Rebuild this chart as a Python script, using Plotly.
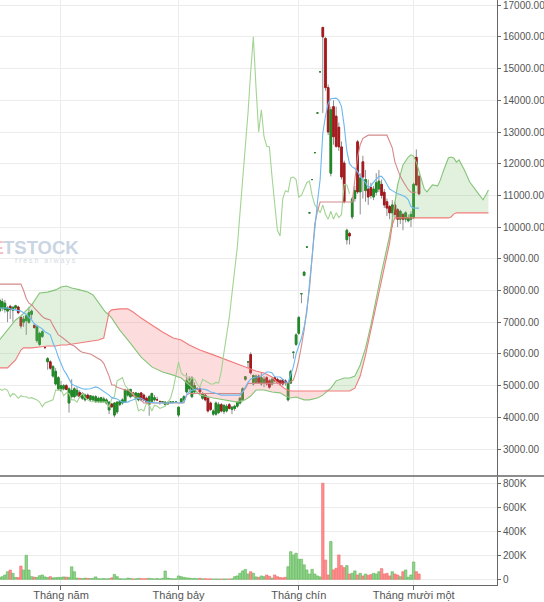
import numpy as np
import pandas as pd
import plotly.graph_objects as go

# trading days from 29 Mar 2018; the last 26 only carry the projected cloud
dates = pd.bdate_range("2018-03-29", periods=184).strftime("%Y-%m-%d").tolist()

opens = [
    7350, 7450, 7400, 7350, 7500, 7380, 7450, 7480, 7150, 7000,
    7050, 7000, 7250, 6900, 6420, 6300, 6550, 6200, 5750, 5750,
    5300, 5050, 4900, 4850, 4900, 5000, 4450, 4650, 4650, 4700,
    4780, 4600, 4550, 4700, 4550, 4550, 4500, 4500, 4480, 4500,
    4450, 4230, 4420, 4070, 4170, 4400, 4450, 4480, 4700, 4650,
    4770, 4600, 4550, 4770, 4700, 4600, 4400, 4500, 4550, 4550,
    4500, 4480, 4400, 4420, 4480, 4480, 4490, 4070, 4480, 4550,
    4800, 4900, 4650, 4800, 4900, 4900, 4600, 4700, 4600, 4450,
    4100, 4100, 4150, 4400, 4180, 4200, 4400, 4250, 4280, 4350,
    4450, 4550, 5200, 5750, 5980, 5050, 5100, 5300, 5050, 5100,
    5250, 5150, 5050, 5250, 5200, 5150, 5180, 5150, 4550, 5080,
    6050, 6300, 6650, 7900, 8480, 9370, 10450, 11500, 12350, 13600,
    14900, 16300, 15950, 14400, 11700, 13800, 13500, 13150, 12530, 12020,
    9600, 9800, 10320, 10900, 12690, 11110, 12060, 11150, 11200, 11250,
    10950, 11100, 11200, 11350, 11100, 10800, 10650, 10450, 10700, 10550,
    10250, 10400, 10250, 10200, 10250, 10300, 12200, 11600,
]
highs = [
    7800, 7750, 7700, 7500, 7550, 7500, 7550, 7520, 7200, 7200,
    7250, 7480, 7400, 6950, 6900, 6700, 6750, 6200, 5900, 5800,
    5650, 5550, 5300, 5150, 5050, 5050, 4950, 5200, 4950, 4950,
    4850, 4800, 4750, 4750, 4700, 4700, 4700, 4650, 4650, 4650,
    4600, 4500, 4450, 4480, 4500, 4550, 4600, 4900, 4900, 4900,
    4800, 4800, 4780, 4800, 4750, 4650, 4700, 4780, 4700, 4650,
    4500, 4500, 4500, 4500, 4480, 4500, 4490, 4330, 4600, 4700,
    5400, 5300, 5300, 5100, 4950, 4950, 4800, 4750, 4650, 4500,
    4250, 4500, 4480, 4450, 4400, 4420, 4450, 4350, 4400, 4500,
    4650, 4950, 5300, 5750, 6050, 5350, 5350, 5350, 5400, 5300,
    5300, 5200, 5250, 5300, 5250, 5200, 5200, 5200, 5100, 5500,
    6080, 6650, 7200, 7900, 8600, 9370, 10450, 11500, 12350, 13600,
    14900, 16300, 16000, 14500, 13800, 14000, 13800, 13300, 12700, 12100,
    9950, 9850, 10950, 11300, 12750, 11700, 12250, 11800, 11500, 11400,
    11300, 11700, 11800, 11500, 11200, 10900, 10700, 10850, 10800, 10600,
    10550, 10450, 10500, 10400, 10500, 11400, 12450, 11650,
]
lows = [
    7200, 7350, 7300, 7000, 7100, 7000, 7400, 7250, 6800, 6850,
    6600, 6950, 7100, 6800, 6350, 6250, 6500, 6150, 5500, 5500,
    5250, 5000, 4850, 4800, 4850, 4850, 4150, 4600, 4600, 4650,
    4600, 4550, 4500, 4550, 4500, 4500, 4450, 4450, 4450, 4450,
    4400, 4100, 4300, 4000, 4100, 4350, 4400, 4450, 4650, 4600,
    4650, 4550, 4500, 4500, 4500, 4450, 4050, 4450, 4500, 4550,
    4400, 4480, 4380, 4400, 4480, 4480, 4490, 4000, 4450, 4500,
    4750, 4800, 4600, 4750, 4900, 4750, 4550, 4500, 4150, 4200,
    4050, 4050, 4100, 4150, 4100, 4150, 4250, 4100, 4200, 4300,
    4400, 4500, 5150, 5550, 5350, 5000, 5050, 5050, 5000, 4950,
    5000, 4900, 5000, 5100, 5050, 5000, 5000, 5000, 4500, 5050,
    5850, 6250, 6600, 7600, 8450, 9370, 10450, 11500, 12350, 13600,
    14900, 13600, 14300, 12900, 11600, 12600, 12500, 12400, 11500, 10750,
    9450, 9450, 10250, 10800, 11050, 10400, 10900, 10800, 10700, 10900,
    10850, 11000, 11100, 10900, 10600, 10350, 10250, 10000, 10300, 10000,
    10100, 9900, 10150, 10150, 10000, 10250, 11300, 11000,
]
closes = [
    7700, 7650, 7600, 7450, 7400, 7470, 7520, 7300, 6880, 7100,
    7200, 7300, 7350, 6830, 6850, 6650, 6700, 6200, 5850, 5550,
    5600, 5450, 5250, 5000, 5000, 4880, 4900, 4850, 4900, 4850,
    4650, 4750, 4700, 4600, 4680, 4650, 4650, 4600, 4620, 4580,
    4550, 4480, 4330, 4450, 4480, 4500, 4550, 4860, 4850, 4880,
    4680, 4770, 4750, 4550, 4550, 4480, 4650, 4750, 4620, 4550,
    4500, 4490, 4480, 4470, 4480, 4480, 4490, 4320, 4580, 4650,
    5150, 5200, 5250, 5000, 4900, 4800, 4750, 4550, 4200, 4250,
    4200, 4450, 4400, 4200, 4380, 4350, 4280, 4320, 4350, 4480,
    4600, 4900, 5280, 5750, 5400, 5320, 5300, 5100, 5250, 5200,
    5050, 4950, 5200, 5150, 5100, 5050, 5050, 5100, 5080, 5450,
    6050, 6600, 7150, 7900, 8580, 9370, 10450, 11500, 12350, 13600,
    14900, 16000, 14400, 13000, 13700, 12850, 12550, 12530, 11580, 10800,
    9900, 9720, 10890, 11150, 11110, 11550, 11580, 11500, 10950, 11000,
    11200, 11400, 11450, 11000, 10700, 10600, 10450, 10700, 10400, 10250,
    10500, 10250, 10450, 10300, 10400, 11350, 11330, 11050,
]
volumes = [
    15000, 22000, 36000, 63000, 77000, 50000, 15000, 15000, 110000, 77000,
    200000, 77000, 22000, 18000, 15000, 30000, 36000, 20000, 15000, 22000,
    12000, 14000, 16000, 16000, 20000, 18000, 16000, 104000, 63000, 10000,
    8000, 6000, 10000, 8000, 6000, 8000, 20000, 5000, 4000, 6000,
    4000, 5000, 12000, 41000, 22000, 5000, 4000, 3000, 10000, 8000,
    3000, 4000, 8000, 6000, 4000, 6000, 8000, 5000, 4000, 6000,
    3000, 8000, 69000, 10000, 6000, 4000, 4000, 28000, 22000, 16000,
    12000, 10000, 6000, 8000, 5000, 8000, 4000, 5000, 3000, 4000,
    2000, 3000, 2000, 2000, 3000, 2000, 3000, 4000, 22000, 28000,
    50000, 70000, 82000, 44000, 63000, 50000, 20000, 16000, 28000, 22000,
    36000, 25000, 10000, 36000, 22000, 15000, 12000, 17000, 105000, 230000,
    203000, 217000, 167000, 167000, 120000, 78000, 44000, 83000, 44000, 28000,
    20000, 800000, 160000, 36000, 315000, 78000, 92000, 203000, 114000, 97000,
    114000, 44000, 50000, 70000, 36000, 50000, 28000, 44000, 33000, 39000,
    50000, 44000, 63000, 89000, 44000, 50000, 28000, 63000, 44000, 36000,
    22000, 63000, 78000, 17000, 36000, 144000, 63000, 44000,
]

# conversion line (blue) and base line, one value per candle
tenkan = [
    7450, 7450, 7450, 7450, 7420, 7400, 7400, 7380, 7350, 7300, 7250,
    7150, 7070, 6950, 6900, 6850, 6790, 6700, 6650, 6600, 6350, 6160, 5900,
    5700, 5500, 5370, 5200, 5050, 5000, 4960, 4930, 4900, 4890, 4890, 4900, 4930, 4960,
    4930, 4870, 4820, 4770, 4700, 4620, 4600, 4580, 4520, 4480, 4480, 4480, 4520, 4550, 4580, 4610, 4600,
    4550, 4500, 4480, 4480, 4460, 4450, 4450, 4450, 4450, 4450, 4450, 4450, 4480, 4450, 4450, 4480,
    4700, 4800, 4850, 4880, 4900, 4900, 4900, 4880, 4850, 4800, 4780, 4750, 4720, 4700,
    4700, 4700, 4700, 4700, 4700, 4700, 4700,
    4800, 4950, 5100, 5200, 5250, 5270, 5270, 5300, 5380, 5430, 5430, 5400, 5280, 5270,
    5270, 5200, 5110, 5100, 5350, 5600, 6000, 6250, 6500,
    6850, 7300, 8200, 9100, 10000, 10800, 11500, 12970, 13500, 13900, 14050, 14070, 14070,
    14000, 13800, 13200, 12400, 12000, 11900, 11850,
    11750, 11600, 11500, 11400, 11250, 11300, 11420, 11500, 11600, 11600, 11500, 11350,
    11200, 11150, 11100, 11050, 11030, 11000, 10950, 10860, 10650, 10600, 10600, 10600,
]
kijun = [
    8200, 8200, 8200, 8200, 8200, 8200, 8200, 8200, 8200,
    8000, 7750, 7600, 7550, 7450, 7350, 7250, 7180, 7120, 7100, 7070, 6900, 6750, 6600,
    6550, 6480, 6400, 6350, 6280, 6250, 6160, 6100, 6050, 6030,
    6000, 6000, 5950, 5900, 5850, 5800, 5700, 5500, 5300, 5020,
    5020, 4950, 4920, 4890, 4860, 4860, 4800, 4700, 4650, 4600, 4550,
    4450, 4450, 4450, 4450, 4450, 4450, 4450, 4450, 4450, 4450, 4450, 4450, 4450, 4450, 4450, 4450,
    4700, 4750, 4750, 4750, 4750, 4750, 4750, 4750, 4750, 4750, 4750, 4750,
    4750, 4750, 4750, 4750, 4750, 4750, 4750, 4750, 4750, 4800, 4900,
    5070, 5070, 5070, 5070, 5070, 5070, 5070, 5070, 5070, 5070, 5070, 5070, 5070, 5070, 5070,
    5080, 5120, 5180, 5450, 5800, 6250, 6750, 7400, 8050, 9050, 10100, 10500,
    10790, 10790, 10790, 10790, 10790, 10790, 10790, 10790, 10790, 10790, 10790, 10790, 10790,
    11500, 12200, 12600, 12800, 12850, 12900, 12900, 12900, 12900, 12900, 12900, 12900, 12900,
    12700, 12500, 12050, 11800, 11600, 11450, 11300, 11180, 11100, 11100, 11100,
]

# leading spans, read at these trading-day positions (index into dates)
cloud_day = [
    0, 3, 6, 8, 9, 12, 15, 18, 21, 23, 25, 27, 30, 33, 35, 37, 39, 40, 41, 42,
    45, 48, 50, 53, 57, 61, 65, 68, 71, 75, 80, 84, 89, 92, 94, 96, 99, 102, 105, 107,
    109, 111, 114, 116, 119, 121, 124, 126, 129, 131, 133, 135, 137, 139, 141, 143, 145, 146, 147, 148,
    149, 151, 153, 154, 155, 156, 157, 159, 160, 161, 162, 164, 165, 166, 168, 169, 170, 171, 172, 174,
    176, 179, 181, 182, 183,
]
span_a = [
    6440, 6750, 7070, 7200, 7290, 7540, 7920, 7950, 8020, 8110,
    8140, 8080, 8020, 7950, 7860, 7610, 7390, 7290, 7230, 7130,
    6750, 6440, 6220, 5900, 5590, 5430, 5330, 5240, 5020, 4700,
    4610, 4550, 4480, 4550, 4670, 4860, 4860, 4800, 4770, 4670,
    4610, 4640, 4550, 4550, 4610, 4700, 4920, 5150, 5240, 5240,
    5300, 5650, 6190, 6910, 7760, 8580, 9340, 9720, 10220, 10860,
    11330, 11960, 12210, 12280, 12240, 12050, 11740, 11200, 11110, 11230,
    11330, 11300, 11490, 11740, 12180, 12210, 12180, 12050, 12120, 11800,
    11420, 11080, 10860, 11010, 11170,
]
span_b = [
    5560, 5560, 5810, 6120, 6190, 6190, 6220, 6250, 6250, 6280,
    6280, 6310, 6340, 6380, 6410, 6440, 6500, 6910, 7320, 7390,
    7420, 7420, 7320, 7130, 6910, 6690, 6500, 6440, 6280, 6120,
    5970, 5840, 5680, 5590, 5520, 5460, 5400, 5270, 5020, 4890,
    4830, 4830, 4830, 4830, 4830, 4830, 4830, 4830, 4830, 4830,
    4920, 5300, 5970, 6750, 7540, 8330, 9120, 9500, 10070, 10290,
    10290, 10290, 10290, 10290, 10290, 10290, 10290, 10290, 10290, 10290,
    10290, 10290, 10290, 10290, 10290, 10320, 10410, 10450, 10450, 10450,
    10450, 10450, 10450, 10450, 10450,
]

month_ticks = ["2018-05-01", "2018-07-02", "2018-09-03", "2018-11-01"]
month_labels = ["Tháng năm", "Tháng bảy", "Tháng chín", "Tháng mười một"]
price_ticks = list(range(3000, 17001, 1000))
vol_ticks = [0, 200000, 400000, 600000, 800000]
vol_labels = ["0", "200K", "400K", "600K", "800K"]

LAG = 26
n = len(closes)
candle_x = dates[:n]
cloud_x = [dates[i] for i in cloud_day]
cloud_top = np.maximum(span_a, span_b)
rising = np.array(closes) >= np.array(opens)

fig = go.Figure()

# cloud: green where span A is above span B, red otherwise
fig.add_trace(go.Scatter(x=cloud_x, y=span_b, mode="lines", line=dict(width=0), hoverinfo="skip"))
fig.add_trace(go.Scatter(x=cloud_x, y=cloud_top, mode="lines", line=dict(width=0),
                         fill="tonexty", fillcolor="rgba(130,198,118,0.24)", hoverinfo="skip"))
fig.add_trace(go.Scatter(x=cloud_x, y=span_a, mode="lines", line=dict(width=0), hoverinfo="skip"))
fig.add_trace(go.Scatter(x=cloud_x, y=cloud_top, mode="lines", line=dict(width=0),
                         fill="tonexty", fillcolor="rgba(245,130,130,0.28)", hoverinfo="skip"))

# wicks in grey, then the bodies on top
wick = dict(line=dict(color="#8e8e8e", width=1), fillcolor="#8e8e8e")
fig.add_trace(go.Candlestick(x=candle_x, open=opens, high=highs, low=lows, close=closes,
                             increasing=wick, decreasing=wick, whiskerwidth=0))
fig.add_trace(go.Candlestick(
    x=candle_x, open=opens, close=closes,
    high=np.maximum(opens, closes), low=np.minimum(opens, closes),
    increasing=dict(line=dict(color="#1f8a24", width=1), fillcolor="#1f8a24"),
    decreasing=dict(line=dict(color="#a8181c", width=1), fillcolor="#a8181c"),
    whiskerwidth=0,
))

fig.add_trace(go.Scatter(x=cloud_x, y=span_a, mode="lines", line=dict(color="#86c47a", width=1.1)))
fig.add_trace(go.Scatter(x=cloud_x, y=span_b, mode="lines", line=dict(color="#f27a7a", width=1.1)))
fig.add_trace(go.Scatter(x=dates[:n - LAG], y=closes[LAG:], mode="lines",
                         line=dict(color="#a3d493", width=1.1)))
fig.add_trace(go.Scatter(x=candle_x, y=kijun, mode="lines", line=dict(color="#d48a8a", width=1.1)))
fig.add_trace(go.Scatter(x=candle_x, y=tenkan, mode="lines", line=dict(color="#6cb8f0", width=1.1)))

fig.add_trace(go.Bar(
    x=candle_x, y=volumes, xaxis="x2", yaxis="y2",
    marker=dict(color=np.where(rising, "#8fd48a", "#ff8f8f"),
                line=dict(color=np.where(rising, "#5fb35a", "#ee6a6a"), width=0.6)),
))

grid = "#ececec"
axis_line = "#666666"
fig.update_layout(
    width=544, height=602,
    margin=dict(l=0, r=47, t=0, b=17, autoexpand=False),
    paper_bgcolor="white", plot_bgcolor="white",
    showlegend=False, bargap=0.08, boxgap=0.15,
    font=dict(family="Liberation Sans, Arial, sans-serif", size=10, color="#555555"),
    xaxis=dict(
        anchor="y", type="category", categoryorder="array", categoryarray=dates,
        range=[0.17, 186.2], tickvals=month_ticks, showticklabels=False,
        showgrid=True, gridcolor=grid, zeroline=False, ticks="", automargin=False,
        rangeslider=dict(visible=False),
    ),
    xaxis2=dict(
        anchor="y2", matches="x", type="category", categoryorder="array", categoryarray=dates,
        tickvals=month_ticks, ticktext=month_labels, tickfont=dict(size=11),
        showgrid=True, gridcolor=grid, showline=True, linecolor=axis_line, linewidth=1,
        ticks="outside", ticklen=4, tickcolor=axis_line, zeroline=False, automargin=False,
        ticklabelstandoff=-4, rangeslider=dict(visible=False),
    ),
    yaxis=dict(
        domain=[0.1863, 1], anchor="x", side="right", range=[2148, 17164],
        tickvals=price_ticks, tickformat=".2f", ticklabeloverflow="allow",
        showgrid=True, gridcolor=grid, zeroline=False, automargin=False,
        showline=True, linecolor=axis_line, linewidth=1,
        ticks="outside", ticklen=3, tickcolor=axis_line,
    ),
    yaxis2=dict(
        domain=[0, 0.1846], anchor="x2", side="right", range=[-47500, 852000],
        tickvals=vol_ticks, ticktext=vol_labels, ticklabeloverflow="allow",
        showgrid=True, gridcolor=grid, zeroline=False, automargin=False,
        showline=True, linecolor=axis_line, linewidth=1,
        ticks="outside", ticklen=3, tickcolor=axis_line,
    ),
    shapes=[dict(type="line", xref="paper", yref="paper", x0=0, x1=544 / 497,
                 y0=0.1863, y1=0.1863, line=dict(color=axis_line, width=1.5))],
    annotations=[
        # watermark, cut by the left edge as in the source
        dict(text="<b>TSTOCK</b>", xref="paper", yref="paper",
             x=81 / 497, y=1 - 247 / 585, xanchor="right", yanchor="middle",
             showarrow=False, font=dict(size=18.5, color="#c9d5e3")),
        dict(text="<b>VIE</b>", xref="paper", yref="paper",
             x=6 / 497, y=1 - 247 / 585, xanchor="right", yanchor="middle",
             showarrow=False, font=dict(size=18.5, color="#f5c0c0")),
        dict(text="f r e s h   a l w a y s", xref="paper", yref="paper",
             x=78 / 497, y=1 - 261 / 585, xanchor="right", yanchor="middle",
             showarrow=False, font=dict(size=7, color="#d3dae3")),
    ],
)

# the page's default body margin would push the figure 8px down and right
fig.write_html("out.html", config={"displayModeBar": False},
               post_script="document.body.style.margin='0';")
